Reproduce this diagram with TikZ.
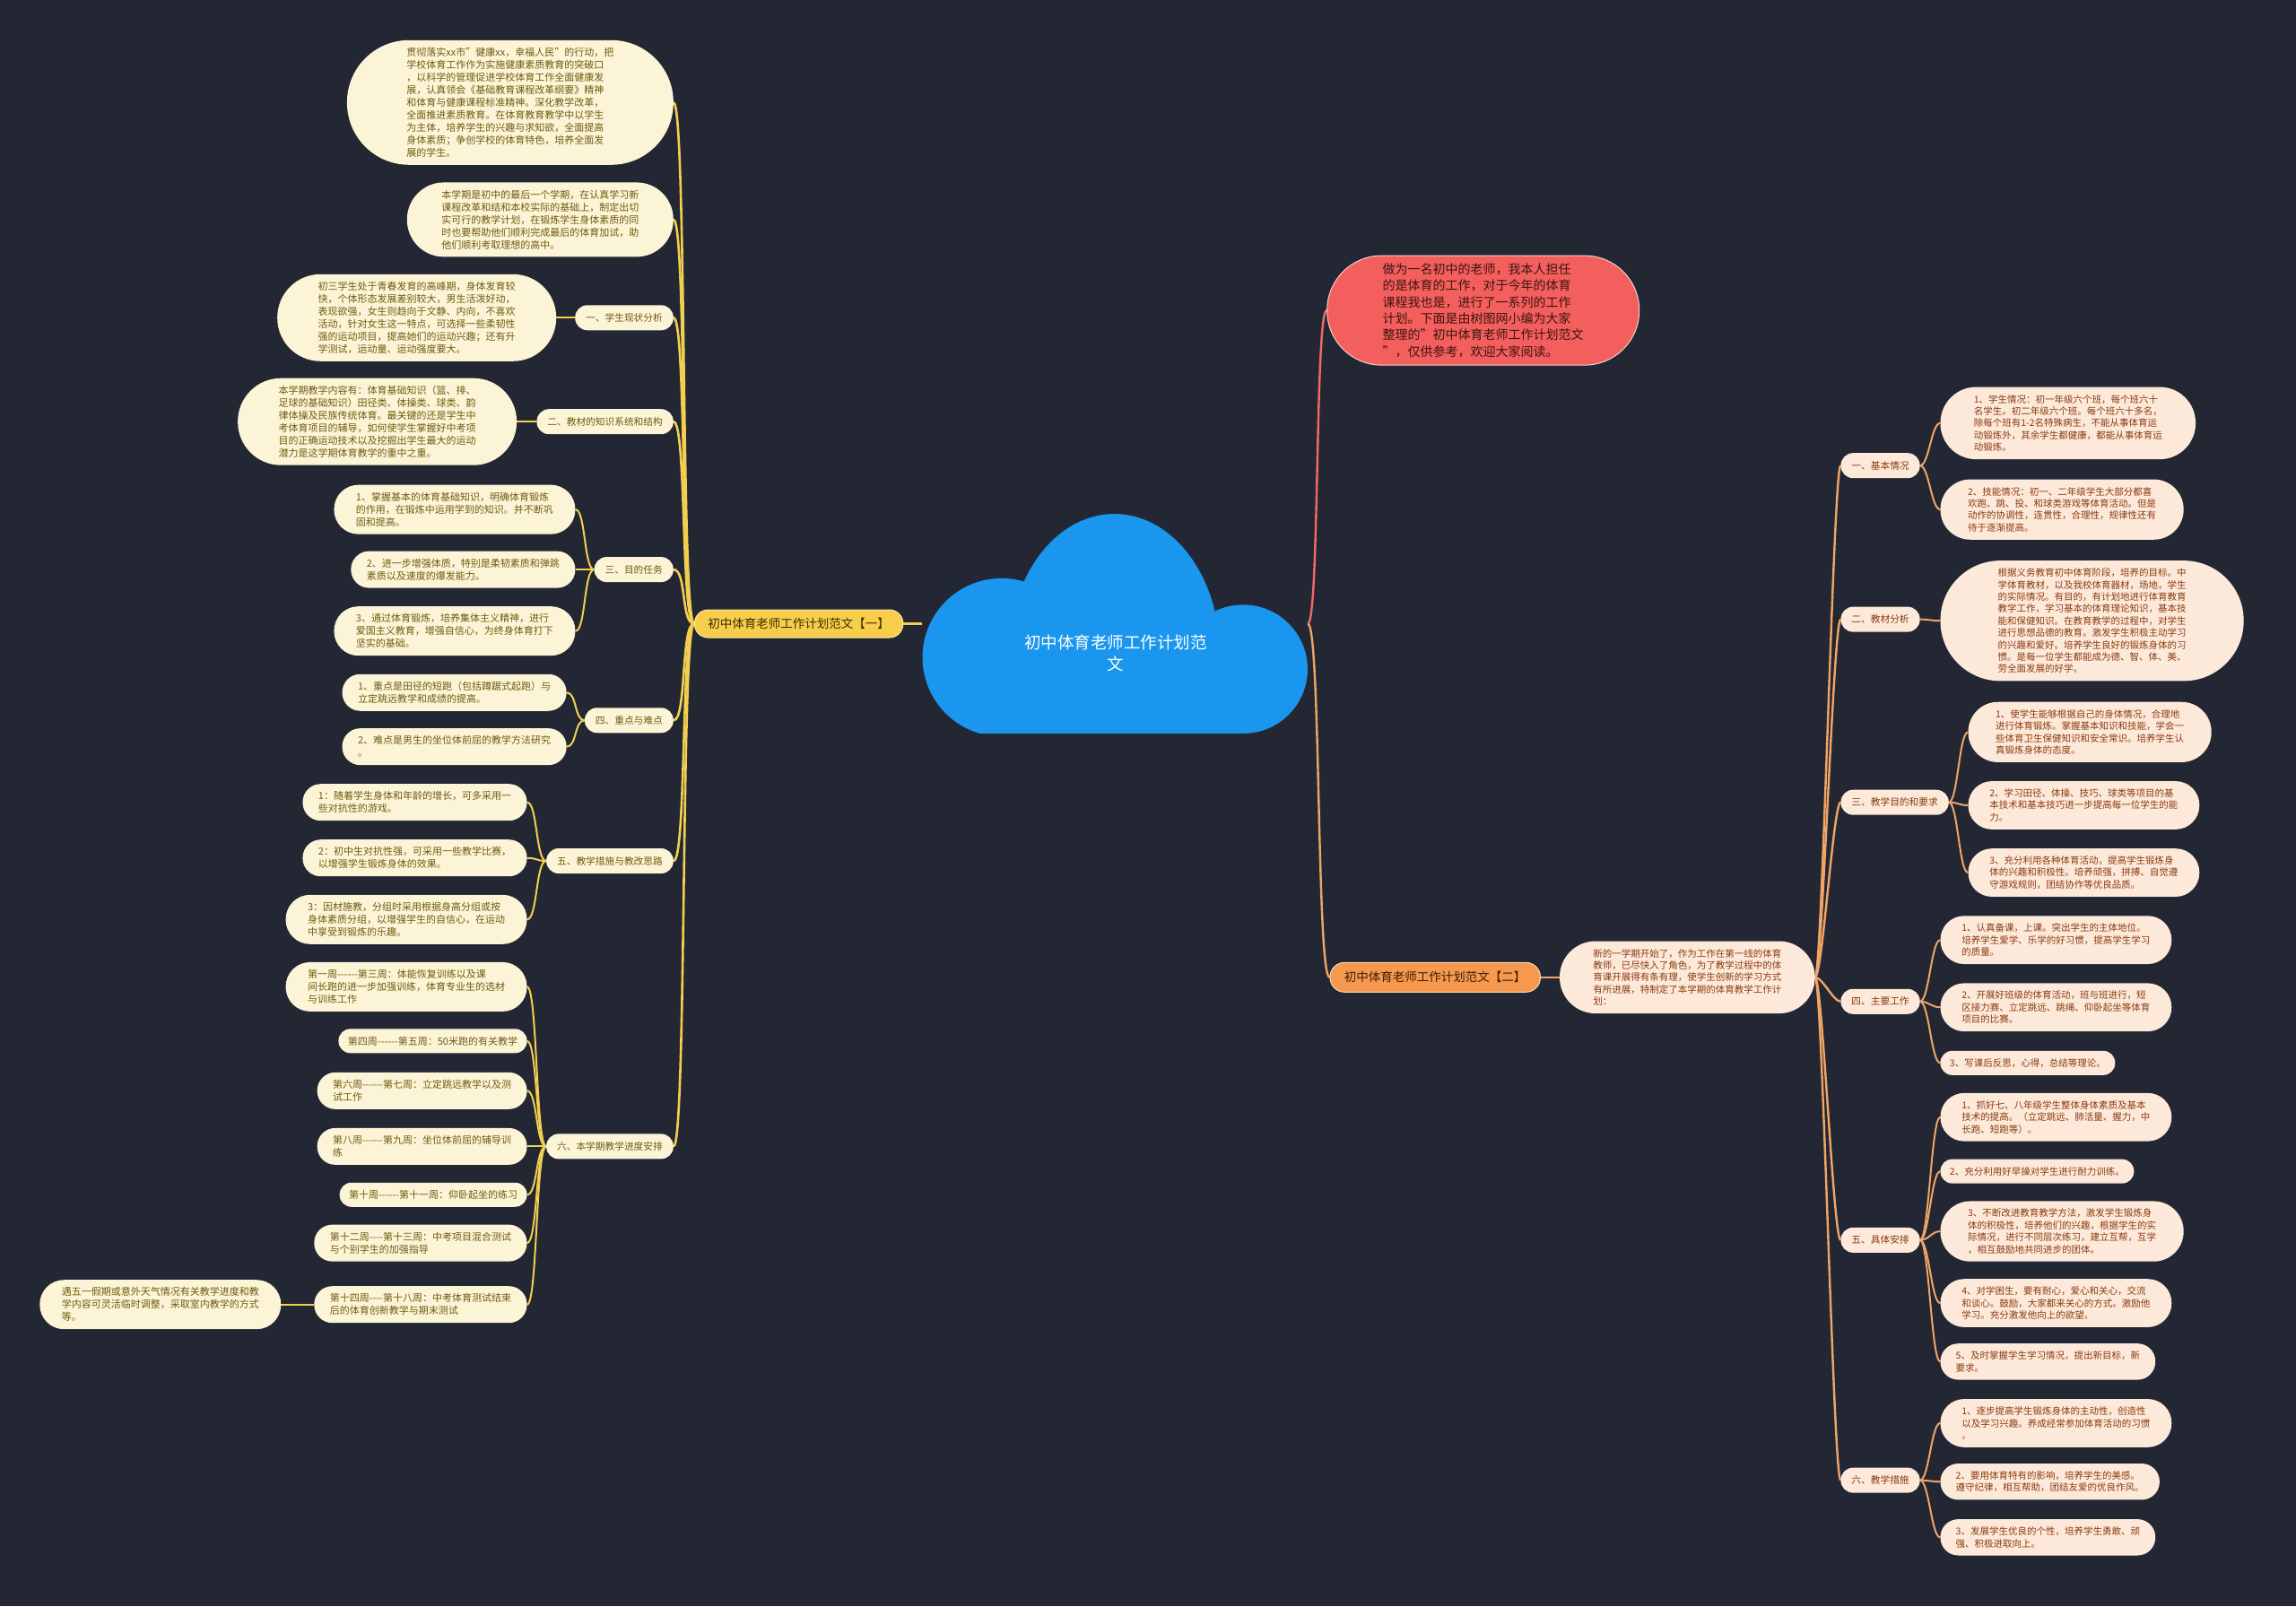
\documentclass[tikz,border=0pt]{standalone}
\usepackage{fontspec}
\setmainfont{Noto Sans CJK SC}
\definecolor{bgc}{HTML}{232733}
\definecolor{cloudc}{HTML}{1A96EE}
\definecolor{yl}{HTML}{F2CF4E}
\definecolor{bonefill}{HTML}{F8CD4B}
\definecolor{boneborder}{HTML}{FBE7A1}
\definecolor{bonetext}{HTML}{3B3000}
\definecolor{lfill}{HTML}{FCF4D6}
\definecolor{ltext}{HTML}{6F5B10}
\definecolor{redc}{HTML}{F25F5C}
\definecolor{redb}{HTML}{F8D0CC}
\definecolor{redtext}{HTML}{3D1410}
\definecolor{redline}{HTML}{EE6B68}
\definecolor{btwofill}{HTML}{F6994F}
\definecolor{btwoborder}{HTML}{FBD6B6}
\definecolor{btwotext}{HTML}{3E1D05}
\definecolor{ol}{HTML}{F0A466}
\definecolor{rfill}{HTML}{FDE9DA}
\definecolor{rtext}{HTML}{8A3A0E}
\newcommand{\dsh}{-{}-{}-{}-{}-{}-}
\newcommand{\dshf}{-{}-{}-{}-}
\pgfdeclarelayer{bgl}
\pgfdeclarelayer{lines}
\pgfsetlayers{bgl,lines,main}
\begin{document}
\begin{tikzpicture}[x=1.63265pt,y=-1.63265pt,
  stad/.style={rectangle, inner ysep=0pt, minimum height=#1, rounded corners={(#1)/2-0.3pt}, inner xsep={(#1)/2-3pt}},
  leafL/.style={stad={(#1-1)*14pt+27pt}, fill=lfill, text=ltext, font=\fontsize{11}{14}\selectfont, align=left, anchor=east},
  subL/.style={rectangle, inner ysep=0pt, minimum height=28pt, rounded corners=13.7pt, inner xsep=12pt, fill=lfill, text=ltext, font=\fontsize{10.7}{13.7}\selectfont, anchor=east},
  leafR/.style={stad={(#1-1)*13.4pt+27pt}, fill=rfill, text=rtext, font=\fontsize{10.5}{13.4}\selectfont, align=left, anchor=west},
  subR/.style={rectangle, inner ysep=0pt, minimum height=28pt, rounded corners=13.7pt, inner xsep=12pt, fill=rfill, text=rtext, font=\fontsize{10.7}{13.7}\selectfont, anchor=west},
  ylmain/.style={draw=yl, line width=2.6pt},
  ylleaf/.style={draw=yl, line width=2pt},
  olmain/.style={draw=ol, line width=2.4pt},
  olleaf/.style={draw=ol, line width=2pt},
]
\begin{pgfonlayer}{bgl}
\fill[bgc] (0,0) rectangle (1568,1097);
\end{pgfonlayer}
\useasboundingbox (0,0) rectangle (1568,1097);

% cloud
\begin{scope}
\clip (600,340) rectangle (900,501);
\fill[cloudc] (761,446) ellipse [x radius=117.5pt, y radius=155.1pt];
\fill[cloudc] (684,449) circle [radius=88.2pt];
\fill[cloudc] (849,457) circle [radius=71.8pt];
\fill[cloudc] (684,420) rectangle (849,501);
\end{scope}
\node[minimum width=429.4pt, minimum height=248pt, inner sep=0pt] (root) at (761.5,426) {};
\node[text=white, font=\fontsize{18.5}{24.5}\selectfont, align=center] (roottitle) at (762,446) {初中体育老师工作计划范\\文};

% ===== left branch =====
\node[rectangle, minimum height=31pt, rounded corners=15.2pt, inner xsep=15pt, inner ysep=0pt, fill=bonefill, draw=boneborder, line width=1pt, text=bonetext, font=\fontsize{13.5}{16}\selectfont, anchor=east] (b1) at (617,426) {初中体育老师工作计划范文【一】};

\node[leafL=9] (la) at (460,70) {贯彻落实xx市"健康xx，幸福人民"的行动，把\\
学校体育工作作为实施健康素质教育的突破口\\
，以科学的管理促进学校体育工作全面健康发\\
展，认真领会《基础教育课程改革纲要》精神\\
和体育与健康课程标准精神。深化教学改革，\\
全面推进素质教育。在体育教育教学中以学生\\
为主体，培养学生的兴趣与求知欲，全面提高\\
身体素质；争创学校的体育特色，培养全面发\\
展的学生。};
\node[leafL=5] (lb) at (460,150) {本学期是初中的最后一个学期，在认真学习新\\
课程改革和结和本校实际的基础上，制定出切\\
实可行的教学计划，在锻炼学生身体素质的同\\
时也要帮助他们顺利完成最后的体育加试，助\\
他们顺利考取理想的高中。};

\node[subL] (l1) at (460,217) {一、学生现状分析};
\node[leafL=6] (l1a) at (380,217) {初三学生处于青春发育的高峰期，身体发育较\\
快，个体形态发展差别较大，男生活泼好动，\\
表现欲强，女生则趋向于文静、内向，不喜欢\\
活动，针对女生这一特点，可选择一些柔韧性\\
强的运动项目，提高她们的运动兴趣；还有升\\
学测试，运动量、运动强度要大。};

\node[subL] (l2) at (460,288) {二、教材的知识系统和结构};
\node[leafL=6] (l2a) at (353,288) {本学期教学内容有：体育基础知识（篮、排、\\
足球的基础知识）田径类、体操类、球类、韵\\
律体操及民族传统体育。最关键的还是学生中\\
考体育项目的辅导，如何使学生掌握好中考项\\
目的正确运动技术以及挖掘出学生最大的运动\\
潜力是这学期体育教学的重中之重。};

\node[subL] (l3) at (460,389) {三、目的任务};
\node[leafL=3] (l3a) at (393,348) {1、掌握基本的体育基础知识，明确体育锻炼\\
的作用，在锻炼中运用学到的知识。并不断巩\\
固和提高。};
\node[leafL=2] (l3b) at (393,389) {2、进一步增强体质，特别是柔韧素质和弹跳\\
素质以及速度的爆发能力。};
\node[leafL=3] (l3c) at (393,431) {3、通过体育锻炼，培养集体主义精神，进行\\
爱国主义教育，增强自信心，为终身体育打下\\
坚实的基础。};

\node[subL] (l4) at (460,492) {四、重点与难点};
\node[leafL=2] (l4a) at (387,473) {1、重点是田径的短跑（包括蹲踞式起跑）与\\
立定跳远教学和成绩的提高。};
\node[leafL=2] (l4b) at (387,510) {2、难点是男生的坐位体前屈的教学方法研究\\
。};

\node[subL] (l5) at (460,588) {五、教学措施与教改思路};
\node[leafL=2] (l5a) at (360,548) {1：随着学生身体和年龄的增长，可多采用一\\
些对抗性的游戏。};
\node[leafL=2] (l5b) at (360,586) {2：初中生对抗性强，可采用一些教学比赛，\\
以增强学生锻炼身体的效果。};
\node[leafL=3] (l5c) at (360,628) {3：因材施教，分组时采用根据身高分组或按\\
身体素质分组，以增强学生的自信心，在运动\\
中享受到锻炼的乐趣。};

\node[subL] (l6) at (460,783) {六、本学期教学进度安排};
\node[leafL=3] (l6a) at (360,674) {第一周\dsh 第三周：体能恢复训练以及课\\
间长跑的进一步加强训练，体育专业生的选材\\
与训练工作};
\node[leafL=1] (l6b) at (360,711) {第四周\dsh 第五周：50米跑的有关教学};
\node[leafL=2] (l6c) at (360,745) {第六周\dsh 第七周：立定跳远教学以及测\\
试工作};
\node[leafL=2] (l6d) at (360,783) {第八周\dsh 第九周：坐位体前屈的辅导训\\
练};
\node[leafL=1] (l6e) at (360,816) {第十周\dsh 第十一周：仰卧起坐的练习};
\node[leafL=2] (l6f) at (360,849) {第十二周\dshf 第十三周：中考项目混合测试\\
与个别学生的加强指导};
\node[leafL=2] (l6g) at (360,891) {第十四周\dshf 第十八周：中考体育测试结束\\
后的体育创新教学与期末测试};
\node[leafL=3] (l6x) at (192,891) {遇五一假期或意外天气情况有关教学进度和教\\
学内容可灵活临时调整，采取室内教学的方式\\
等。};

% ===== right branch =====
\node[rectangle, minimum height=122pt, rounded corners=60.7pt, inner xsep=62pt, inner ysep=0pt, fill=redc, draw=redb, line width=1pt, text=redtext, font=\fontsize{14}{18.3}\selectfont, align=left, anchor=west] (red) at (906,212) {做为一名初中的老师，我本人担任\\
的是体育的工作，对于今年的体育\\
课程我也是，进行了一系列的工作\\
计划。下面是由树图网小编为大家\\
整理的"初中体育老师工作计划范文\\
"，仅供参考，欢迎大家阅读。};

\node[rectangle, minimum height=33pt, rounded corners=16.2pt, inner xsep=16pt, inner ysep=0pt, fill=btwofill, draw=btwoborder, line width=1pt, text=btwotext, font=\fontsize{13.5}{16}\selectfont, anchor=west] (b2) at (908,667.5) {初中体育老师工作计划范文【二】};

\node[leafR=5] (intro) at (1065,667.5) {新的一学期开始了，作为工作在第一线的体育\\
教师，已尽快入了角色，为了教学过程中的体\\
育课开展得有条有理，使学生创新的学习方式\\
有所进展，特制定了本学期的体育教学工作计\\
划：};

\node[subR] (r1) at (1257,318) {一、基本情况};
\node[leafR=5] (r1a) at (1325,289) {1、学生情况：初一年级六个班，每个班六十\\
名学生。初二年级六个班。每个班六十多名，\\
除每个班有1-2名特殊病生，不能从事体育运\\
动锻炼外，其余学生都健康，都能从事体育运\\
动锻炼。};
\node[leafR=4] (r1b) at (1325,348) {2、技能情况：初一、二年级学生大部分都喜\\
欢跑、跳、投、和球类游戏等体育活动。但是\\
动作的协调性，连贯性，合理性，规律性还有\\
待于逐渐提高。};

\node[subR] (r2) at (1257,423) {二、教材分析};
\node[leafR=9] (r2a) at (1325,424) {根据义务教育初中体育阶段，培养的目标。中\\
学体育教材，以及我校体育器材，场地，学生\\
的实际情况。有目的，有计划地进行体育教育\\
教学工作，学习基本的体育理论知识，基本技\\
能和保健知识。在教育教学的过程中，对学生\\
进行思想品德的教育。激发学生积极主动学习\\
的兴趣和爱好。培养学生良好的锻炼身体的习\\
惯。是每一位学生都能成为德、智、体、美、\\
劳全面发展的好学。};

\node[subR] (r3) at (1257,548) {三、教学目的和要求};
\node[leafR=4] (r3a) at (1344,500) {1、使学生能够根据自己的身体情况，合理地\\
进行体育锻炼。掌握基本知识和技能，学会一\\
些体育卫生保健知识和安全常识。培养学生认\\
真锻炼身体的态度。};
\node[leafR=3] (r3b) at (1344,550) {2、学习田径、体操、技巧、球类等项目的基\\
本技术和基本技巧进一步提高每一位学生的能\\
力。};
\node[leafR=3] (r3c) at (1344,596) {3、充分利用各种体育活动，提高学生锻炼身\\
体的兴趣和积极性。培养顽强，拼搏、自觉遵\\
守游戏规则，团结协作等优良品质。};

\node[subR] (r4) at (1257,684) {四、主要工作};
\node[leafR=3] (r4a) at (1325,642) {1、认真备课，上课。突出学生的主体地位。\\
培养学生爱学、乐学的好习惯，提高学生学习\\
的质量。};
\node[leafR=3] (r4b) at (1325,688) {2、开展好班级的体育活动，班与班进行，短\\
区接力赛、立定跳远、跳绳、仰卧起坐等体育\\
项目的比赛。};
\node[leafR=1] (r4c) at (1325,726) {3、写课后反思，心得，总结等理论。};

\node[subR] (r5) at (1257,847) {五、具体安排};
\node[leafR=3] (r5a) at (1325,763) {1、抓好七、八年级学生整体身体素质及基本\\
技术的提高。（立定跳远、肺活量、握力，中\\
长跑、短跑等）。};
\node[leafR=1] (r5b) at (1325,800) {2、充分利用好早操对学生进行耐力训练。};
\node[leafR=4] (r5c) at (1325,841) {3、不断改进教育教学方法，激发学生锻炼身\\
体的积极性，培养他们的兴趣，根据学生的实\\
际情况，进行不同层次练习，建立互帮，互学\\
，相互鼓励地共同进步的团体。};
\node[leafR=3] (r5d) at (1325,890) {4、对学困生，要有耐心，爱心和关心，交流\\
和谈心。鼓励，大家都来关心的方式。激励他\\
学习。充分激发他向上的欲望。};
\node[leafR=2] (r5e) at (1325,930) {5、及时掌握学生学习情况，提出新目标，新\\
要求。};

\node[subR] (r6) at (1257,1011) {六、教学措施};
\node[leafR=3] (r6a) at (1325,972) {1、逐步提高学生锻炼身体的主动性，创造性\\
以及学习兴趣。养成经常参加体育活动的习惯\\
。};
\node[leafR=2] (r6b) at (1325,1012) {2、要用体育特有的影响，培养学生的美感。\\
遵守纪律，相互帮助，团结友爱的优良作风。};
\node[leafR=2] (r6c) at (1325,1050) {3、发展学生优良的个性，培养学生勇敢、顽\\
强、积极进取向上。};

% ===== connectors =====
\begin{pgfonlayer}{lines}
\draw[ylmain] (root.west) -- (b1.east);
\foreach \c in {la,lb,l1,l2,l3,l4,l5,l6}
  \draw[ylmain] (b1.west) .. controls +(-9,0) and +(9,0) .. (\c.east);
\foreach \p/\c in {l1/l1a,l2/l2a,l3/l3a,l3/l3b,l3/l3c,l4/l4a,l4/l4b,l5/l5a,l5/l5b,l5/l5c,l6/l6a,l6/l6b,l6/l6c,l6/l6d,l6/l6e,l6/l6f,l6/l6g,l6g/l6x}
  \draw[ylleaf] (\p.west) .. controls +(-7,0) and +(7,0) .. (\c.east);
\draw[draw=redline, line width=2.4pt] (root.east) .. controls +(8,0) and +(-8,0) .. (red.west);
\draw[olmain] (root.east) .. controls +(9,0) and +(-9,0) .. (b2.west);
\draw[olmain] (b2.east) -- (intro.west);
\foreach \c in {r1,r2,r3,r4,r5,r6}
  \draw[olmain] (intro.east) .. controls +(5,0) and +(-5,0) .. (\c.west);
\foreach \p/\c in {r1/r1a,r1/r1b,r2/r2a,r3/r3a,r3/r3b,r3/r3c,r4/r4a,r4/r4b,r4/r4c,r5/r5a,r5/r5b,r5/r5c,r5/r5d,r5/r5e,r6/r6a,r6/r6b,r6/r6c}
  \draw[olleaf] (\p.east) .. controls +(6,0) and +(-6,0) .. (\c.west);
\end{pgfonlayer}
\end{tikzpicture}
\end{document}
